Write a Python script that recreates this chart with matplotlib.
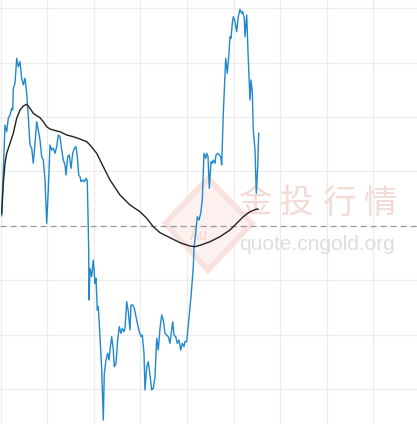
import matplotlib.pyplot as plt
from matplotlib.patches import Polygon

plt.rcParams['font.family'] = ['Noto Sans CJK SC', 'DejaVu Sans']

# intraday price (offset from previous close), x = minute index
price_x = [1.7, 5, 6.7, 8.3, 10, 11.7, 12.7, 13.3, 15, 16.7, 18.3, 20, 21.7, 23.3, 25, 26.7,
           28.3, 30, 31.7, 33.3, 35, 36.7, 38.3, 40, 41.7, 43.3, 45, 46.7, 48.3, 50, 51.7,
           53.3, 55, 56.7, 58.3, 60, 61.7, 63.3, 65, 66, 67.7, 69.3, 71, 72.7, 74.3, 76,
           77.3, 78.7, 80, 81, 82.7, 84.3, 86, 87.3, 88.3, 88.7, 89, 90, 91.7, 93.3, 95,
           96, 97.3, 98.3, 100, 101.7, 103.3, 104.3, 106, 107.7, 109, 110, 111.7, 113.3,
           114.3, 116, 117.7, 119.3, 121, 122.3, 124, 125, 126.7, 128.3, 130, 131, 132.7,
           134.3, 136, 137.7, 139.3, 141, 142.3, 144, 145, 146.7, 148.3, 150, 151.7, 153.3,
           155, 156.7, 158.3, 160, 161.7, 163.3, 165, 166.7, 168.3, 170, 171.7, 172.7, 174,
           175.7, 177.3, 179, 180.7, 182.3, 184, 185, 186.7, 188.3, 191, 193.3, 194, 196,
           197.3, 199, 200.7, 202.3, 204, 205.7, 206.7, 208, 209.3, 211, 212.3, 213.3, 215,
           216, 217.7, 219.3, 220.7, 221.7, 223.3, 225.7, 227.3, 229, 230, 231, 232.3,
           233.3, 235, 236.7, 238.3, 240, 241.7, 242.7, 244.3, 245, 246.7, 248.3, 250, 251,
           252.3, 253.3, 255, 256.3, 257.7, 258.7]
price_y = [10, 100.7, 94, 107.4, 110.7, 117.4, 115.7, 137.4, 142.4, 167.4, 159, 164, 147.4,
           140.7, 147.4, 132.4, 109, 80.7, 77.4, 62.4, 82.4, 104, 95.7, 85.7, 69, 65.7, 45.7,
           2.4, 35.7, 80.7, 75.7, 77.4, 72.4, 79, 90.7, 89, 75.7, 65.7, 60.7, 50.7, 69, 70.7,
           57.4, 72.4, 77.4, 79, 69, 50.7, 49, 44, 45.7, 44, 47.4, 45, -4.3, -24.3, -74.3,
           -42.6, -51, -34.3, -57.6, -52.6, -84.3, -81, -111, -144.3, -194.3, -147.6, -134.3,
           -127.6, -134.3, -124.3, -111, -124.3, -141, -137.6, -114.3, -101, -107.6, -102.6,
           -106, -102.6, -76, -86, -104.3, -79.3, -79.3, -82.6, -91, -99.3, -106, -111,
           -109.3, -127.6, -164.3, -141, -136, -149.3, -164.3, -162.6, -151, -112.6, -124.3,
           -102.6, -89.3, -94.3, -107.6, -109.3, -111, -117.6, -104.3, -96, -109.3, -111,
           -117.6, -114.3, -124.3, -117.6, -121, -116, -116, -99.3, -71, -41, -22.6, -4.3,
           9, 5.7, 12.4, 25.7, 72.4, 67.4, 72.4, 69, 37.4, 64, 62.4, 65.7, 62.4, 70.7, 72.4,
           70.7, 69, 60.7, 112.4, 167.4, 152.4, 172.4, 189, 187.4, 202.4, 209, 204, 194, 209,
           216.4, 212.4, 214, 207.4, 189, 210.7, 165.7, 125.7, 145.7, 134, 95.7, 75.7, 32.4,
           59, 92.4]

# moving average
avg_x = [1.7, 3.3, 5, 6.7, 10, 13.3, 16.7, 20, 23.3, 26.7, 30, 33.3, 36.7, 40, 43.3, 46.7,
         50, 53.3, 56.7, 60, 66.7, 73.3, 80, 86.7, 90, 96.7, 103.3, 110, 120, 130, 140,
         146.7, 153.3, 160, 170, 180, 190, 195, 200, 210, 220, 230, 236.7, 243.3, 250,
         256.7, 258.3]
avg_y = [12.4, 42.4, 62.4, 72.4, 82.4, 92.4, 107.4, 115.7, 119.7, 121.4, 117.4, 112.4, 110,
         108, 104, 99, 96.7, 95.7, 94.7, 94, 90.7, 89, 86.7, 84, 80.7, 72.4, 59, 45.7, 30.7,
         20.7, 14, 7.4, -1, -7, -12, -17, -20.3, -21, -19.6, -16, -11, -4.3, 2.4, 9, 14,
         16.7, 16.4]

fig = plt.figure(figsize=(4.17, 4.24), dpi=100)
ax = fig.add_axes([0, 0, 1, 1])
ax.set_xlim(0, 417)
ax.set_ylim(-198.3, 225.7)
ax.axis('off')

for gx in [0.7 + 46.6 * k for k in range(9)]:
    ax.axvline(gx, color='#ececec', lw=0.9, zorder=0)
for gy in [-163.2, -108.8, -54.4, 54.4, 108.8, 163.2, 217.6]:
    ax.axhline(gy, color='#ececec', lw=0.9, zorder=0)
ax.axhline(0, color='#999999', lw=0.9, ls=(0, (5, 3)), zorder=1)

# watermark
diamond = Polygon([(0.396, 0.473), (0.499, 0.579), (0.604, 0.473), (0.499, 0.363)],
                  closed=True, fc='#fcf1ef', ec='#f7e2dd', lw=4, transform=ax.transAxes,
                  zorder=0.5)
ax.add_patch(diamond)
ax.text(0.478, 0.445, 'Au', transform=ax.transAxes, ha='center', va='center',
        fontsize=11, color='#f1d3cc', zorder=0.6)
for i, ch in enumerate('金投行情'):
    ax.text((255 + 41.7 * i) / 417, 1 - 203 / 424, ch, transform=ax.transAxes,
            ha='center', va='center', fontsize=24, color='#f4dad4', zorder=0.6)
ax.text(317.5 / 417, 1 - 250 / 424, 'quote.cngold.org', transform=ax.transAxes,
        ha='center', va='baseline', fontsize=15, color='#dddddd',
        family='Liberation Sans', zorder=0.6)

ax.plot(price_x, price_y, color='#1f88cf', lw=1.0, zorder=3)
ax.plot(avg_x, avg_y, color='#222222', lw=1.0, zorder=4)

fig.savefig('out.png', dpi=100)
